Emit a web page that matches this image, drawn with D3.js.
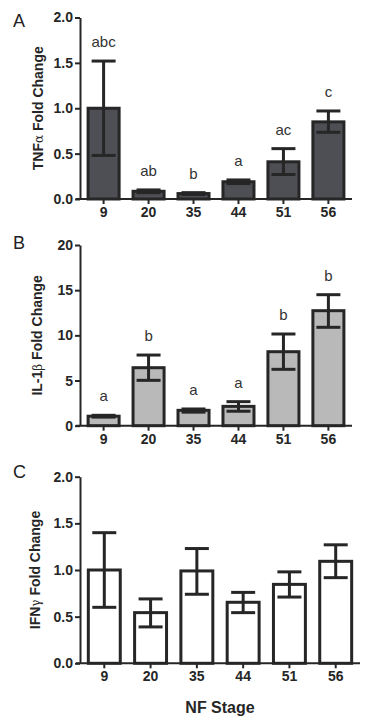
<!DOCTYPE html>
<html><head><meta charset="utf-8">
<script src="https://cdn.jsdelivr.net/npm/d3@7/dist/d3.min.js"></script>
<style>html,body{margin:0;padding:0;background:#fff;}svg{display:block;}</style>
</head><body>
<svg id="chart" width="375" height="725"></svg>
<script>
const stages = ["9","20","35","44","51","56"];

const tnfMean = [1.0, 0.085, 0.06, 0.19, 0.41, 0.85];
const tnfLow = [0.48, 0.07, 0.05, 0.17, 0.27, 0.735];
const tnfHigh = [1.52, 0.10, 0.07, 0.21, 0.555, 0.97];
const tnfLetters = ["abc","ab","b","a","ac","c"];
const tnfTicks = [0, 0.5, 1.0, 1.5, 2.0];

const il1Mean = [1.05, 6.42, 1.7, 2.14, 8.19, 12.73];
const il1Low = [0.95, 5.02, 1.5, 1.6, 6.24, 10.89];
const il1High = [1.15, 7.82, 1.85, 2.66, 10.15, 14.5];
const il1Letters = ["a","b","a","a","b","b"];
const il1Ticks = [0, 5, 10, 15, 20];

const ifnMean = [1.0, 0.543, 0.99, 0.654, 0.846, 1.093];
const ifnLow = [0.6, 0.39, 0.74, 0.543, 0.71, 0.918];
const ifnHigh = [1.4, 0.69, 1.23, 0.76, 0.98, 1.27];
const ifnTicks = [0, 0.5, 1.0, 1.5, 2.0];

const panels = [
  {tag:"A", title:["TNF","α"," Fold Change"], mean:tnfMean, low:tnfLow, high:tnfHigh, letters:tnfLetters, ticks:tnfTicks, fmt:d3.format(".1f"), max:2,
   fill:"#4e4f55", x0:80, x1:352, yTop:17.5, yBot:199, tagY:27, titleX:43},
  {tag:"B", title:["IL-1","β"," Fold Change"], mean:il1Mean, low:il1Low, high:il1High, letters:il1Letters, ticks:il1Ticks, fmt:d3.format("d"), max:20,
   fill:"#b9b9b9", x0:80, x1:352, yTop:245, yBot:425.7, tagY:249, titleX:42},
  {tag:"C", title:["IFN","γ"," Fold Change"], mean:ifnMean, low:ifnLow, high:ifnHigh, letters:null, ticks:ifnTicks, fmt:d3.format(".1f"), max:2,
   fill:"#ffffff", x0:80, x1:360, yTop:476.7, yBot:663.3, tagY:478, titleX:40}
];

const svg = d3.select("#chart");
const ink = "#262626";
const font = "'Liberation Sans', Arial, sans-serif";

panels.forEach(p => {
  const x = d3.scaleBand().domain(stages).range([p.x0, p.x1]).paddingInner(0.31).paddingOuter(0.18);
  const y = d3.scaleLinear().domain([0, p.max]).range([p.yBot, p.yTop]);
  const g = svg.append("g");

  // bars
  g.selectAll("rect.bar").data(stages).join("rect")
    .attr("x", d => x(d)).attr("width", x.bandwidth())
    .attr("y", (d,i) => y(p.mean[i])).attr("height", (d,i) => y(0) - y(p.mean[i]))
    .attr("fill", p.fill).attr("stroke", ink).attr("stroke-width", 3);

  // error bars
  const capW = 24;
  const eb = g.selectAll("g.eb").data(stages).join("g");
  eb.append("line")
    .attr("x1", d => x(d) + x.bandwidth()/2).attr("x2", d => x(d) + x.bandwidth()/2)
    .attr("y1", (d,i) => y(p.low[i])).attr("y2", (d,i) => y(p.high[i]))
    .attr("stroke", ink).attr("stroke-width", 3);
  eb.append("line")
    .attr("x1", d => x(d) + x.bandwidth()/2 - capW/2).attr("x2", d => x(d) + x.bandwidth()/2 + capW/2)
    .attr("y1", (d,i) => y(p.high[i])).attr("y2", (d,i) => y(p.high[i]))
    .attr("stroke", ink).attr("stroke-width", 3);
  eb.append("line")
    .attr("x1", d => x(d) + x.bandwidth()/2 - capW/2).attr("x2", d => x(d) + x.bandwidth()/2 + capW/2)
    .attr("y1", (d,i) => y(p.low[i])).attr("y2", (d,i) => y(p.low[i]))
    .attr("stroke", ink).attr("stroke-width", 3);

  // letters
  if (p.letters) {
    g.selectAll("text.lt").data(stages).join("text")
      .attr("x", d => x(d) + x.bandwidth()/2)
      .attr("y", (d,i) => y(p.high[i]) - 14)
      .attr("text-anchor", "middle")
      .attr("font-family", font).attr("font-size", 15).attr("fill", "#333")
      .text((d,i) => p.letters[i]);
  }

  // y axis
  const ya = g.append("g").attr("transform", `translate(${p.x0},0)`)
    .call(d3.axisLeft(y).tickValues(p.ticks).tickFormat(p.fmt).tickSize(5).tickPadding(2).tickSizeOuter(0));
  ya.select(".domain").attr("stroke", ink).attr("stroke-width", 2);
  ya.selectAll(".tick line").attr("stroke", ink).attr("stroke-width", 2);
  ya.selectAll(".tick text").attr("font-family", font).attr("font-size", 14).attr("font-weight", "bold").attr("fill", "#262626");

  // x axis
  const xa = g.append("g").attr("transform", `translate(0,${p.yBot})`)
    .call(d3.axisBottom(x).tickSize(5).tickPadding(3).tickSizeOuter(0));
  xa.select(".domain").attr("stroke", ink).attr("stroke-width", 2).attr("d", `M${p.x0-4},0H${p.x1}`);
  xa.selectAll(".tick line").attr("stroke", ink).attr("stroke-width", 2);
  xa.selectAll(".tick text").attr("font-family", font).attr("font-size", 14).attr("font-weight", "bold").attr("fill", "#262626");

  // panel tag
  svg.append("text").attr("x", 13).attr("y", p.tagY)
    .attr("font-family", font).attr("font-size", 18).attr("fill", "#222").text(p.tag);

  // y title
  const t = svg.append("text")
    .attr("transform", `translate(${p.titleX},${(p.yTop + p.yBot)/2}) rotate(-90)`)
    .attr("text-anchor", "middle")
    .attr("font-family", font).attr("font-size", 14).attr("font-weight", "bold").attr("fill", "#262626");
  t.append("tspan").text(p.title[0]);
  t.append("tspan").attr("font-weight", "normal").attr("font-family", "'DejaVu Serif', serif").attr("font-size", 12).text(p.title[1]);
  t.append("tspan").text(p.title[2]);
});

svg.append("text").attr("x", 220).attr("y", 713).attr("text-anchor", "middle")
  .attr("font-family", font).attr("font-size", 16).attr("font-weight", "bold").attr("fill", "#262626")
  .text("NF Stage");
</script>
</body></html>
